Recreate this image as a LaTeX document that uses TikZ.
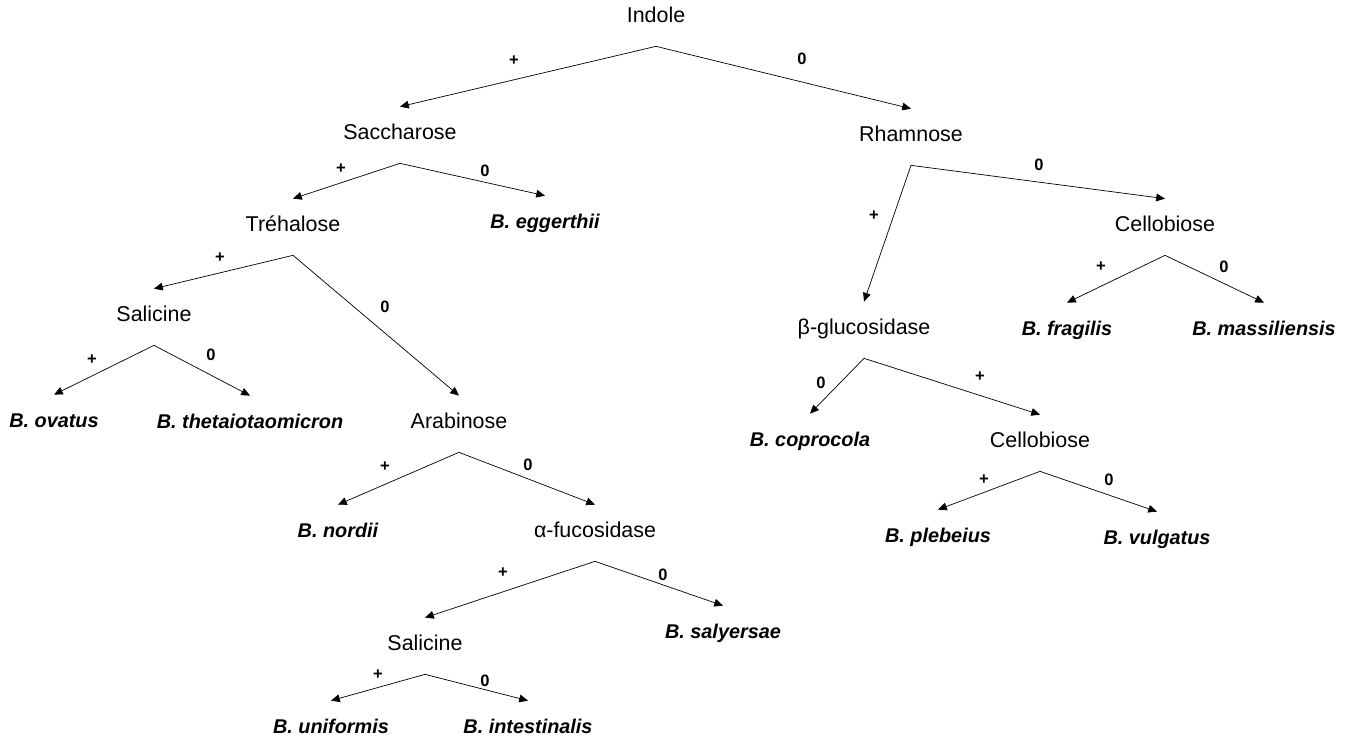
\documentclass[tikz,border=0pt]{standalone}
\usepackage{fontspec}
\setmainfont{Liberation Sans}
\usepackage{tikz}
\usetikzlibrary{arrows.meta}
\tikzset{
    test/.style={
      font=\fontsize{12.2}{14}\selectfont,
      text height=0.3cm,
      text depth=0.1cm,
      inner xsep=0pt,
      inner ysep=0.36cm
    },
    taxon/.style={
      test,
      font=\fontsize{11.3}{14}\selectfont\bfseries\itshape
    },
    result/.style={
      font=\fontsize{9.4}{11}\selectfont\bfseries,
      inner sep=0pt
    },
    branch/.style={
      -{Triangle[length=5pt,width=4.4pt]},
      line width=0.4pt
    },
}

\begin{document}
\begin{tikzpicture}[x=0.02cm,y=-0.02cm]
    \useasboundingbox (0,0) rectangle (1352,742);

    \draw (656,18) node[test] (T0) {Indole};
    \draw (400,135) node[test] (T1) {Saccharose};
    \draw (911,137) node[test] (T2) {Rhamnose};
    \draw (293,227) node[test] (T3) {Tréhalose};
    \draw (545,224) node[taxon] (L1) {B. eggerthii};
    \draw (1165,227) node[test] (T4) {Cellobiose};
    \draw (154,317) node[test] (T5) {Salicine};
    \draw (864,330) node[test] (T6) {β-glucosidase};
    \draw (1067,331) node[taxon] (L2) {B. fragilis};
    \draw (1264,331) node[taxon] (L3) {B. massiliensis};
    \draw (54,423) node[taxon] (L4) {B. ovatus};
    \draw (250,424) node[taxon] (L5) {B. thetaiotaomicron};
    \draw (459,424) node[test] (T7) {Arabinose};
    \draw (810,442) node[taxon] (L6) {B. coprocola};
    \draw (1040,443) node[test] (T8) {Cellobiose};
    \draw (338,533) node[taxon] (L7) {B. nordii};
    \draw (595,533) node[test] (T9) {α-fucosidase};
    \draw (938,538) node[taxon] (L8) {B. plebeius};
    \draw (1157,540) node[taxon] (L9) {B. vulgatus};
    \draw (723,634) node[taxon] (L10) {B. salyersae};
    \draw (425,646) node[test] (T10) {Salicine};
    \draw (331,729) node[taxon] (L11) {B. uniformis};
    \draw (528,729) node[taxon] (L12) {B. intestinalis};

    \path (T0.south) edge[branch] (T1.north);
    \path (T0.south) edge[branch] (T2.north);
    \path (T1.south) edge[branch] (T3.north);
    \path (T1.south) edge[branch] (L1.north);
    \path (T2.south) edge[branch] (T6.north);
    \path (T2.south) edge[branch] (T4.north);
    \path (T3.south) edge[branch] (T5.north);
    \path (T3.south) edge[branch] (T7.north);
    \path (T4.south) edge[branch] (L2.north);
    \path (T4.south) edge[branch] (L3.north);
    \path (T5.south) edge[branch] (L4.north);
    \path (T5.south) edge[branch] (L5.north);
    \path (T6.south) edge[branch] (L6.north);
    \path (T6.south) edge[branch] (T8.north);
    \path (T7.south) edge[branch] (L7.north);
    \path (T7.south) edge[branch] (T9.north);
    \path (T8.south) edge[branch] (L8.north);
    \path (T8.south) edge[branch] (L9.north);
    \path (T9.south) edge[branch] (T10.north);
    \path (T9.south) edge[branch] (L10.north);
    \path (T10.south) edge[branch] (L11.north);
    \path (T10.south) edge[branch] (L12.north);

    \draw (514,61) node[result] (R0p) {+};
    \draw (802,59) node[result] (R0z) {0};
    \draw (341,169) node[result] (R1p) {+};
    \draw (485,171) node[result] (R1z) {0};
    \draw (874,216) node[result] (R2p) {+};
    \draw (1039,165) node[result] (R2z) {0};
    \draw (220,258) node[result] (R3p) {+};
    \draw (385,307) node[result] (R3z) {0};
    \draw (1101,267) node[result] (R4p) {+};
    \draw (1224,267) node[result] (R4z) {0};
    \draw (92,360) node[result] (R5p) {+};
    \draw (211,355) node[result] (R5z) {0};
    \draw (980,377) node[result] (R6p) {+};
    \draw (821,383) node[result] (R6z) {0};
    \draw (385,467) node[result] (R7p) {+};
    \draw (528,465) node[result] (R7z) {0};
    \draw (984,480) node[result] (R8p) {+};
    \draw (1109,480) node[result] (R8z) {0};
    \draw (503,573) node[result] (R9p) {+};
    \draw (663,575) node[result] (R9z) {0};
    \draw (378,675) node[result] (R10p) {+};
    \draw (485,681) node[result] (R10z) {0};
\end{tikzpicture}
\end{document}
